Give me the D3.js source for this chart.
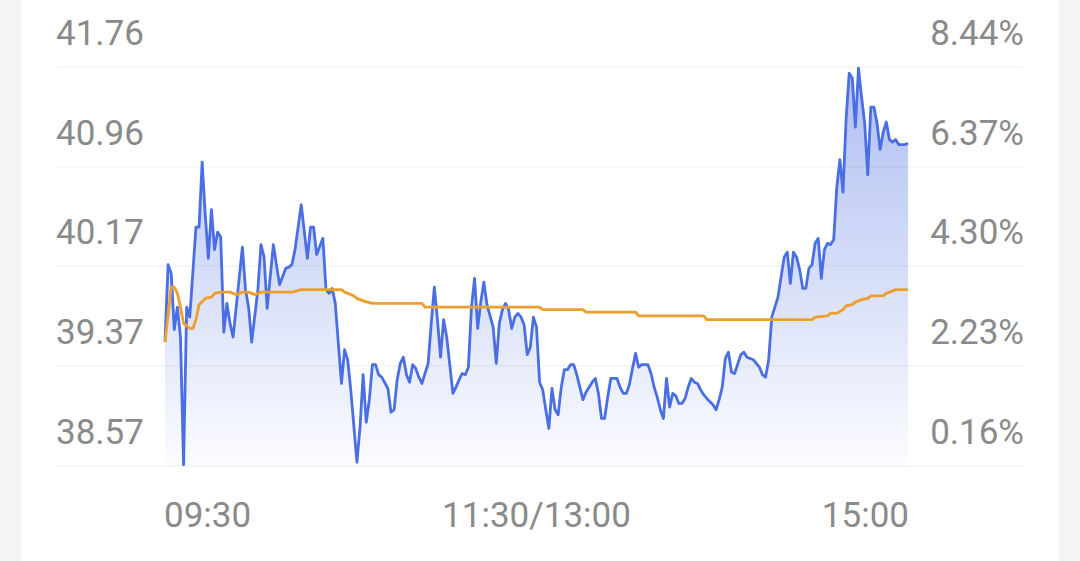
<!DOCTYPE html>
<html>
<head>
<meta charset="utf-8">
<script src="https://cdn.jsdelivr.net/npm/d3@7"></script>
<style>
  html, body { margin: 0; padding: 0; background: #f4f4f4; }
  #chart { width: 1080px; height: 561px; }
</style>
</head>
<body>
<div id="chart"></div>
<script>
// minute index from 09:30 (0..240, lunch break collapsed), last price
var priceMinutes = [0,1,2,3,4,5,6,7,8,10,11,12,13,14,15,16,17,18,19,20,21,22,23,25,26,27,28,30,31,32,33,35,36,37,39,40,41,42,44,46,47,48,49,51,52,53,54,55,57,58,59,60,62,63,64,65,66,67,68,69,70,72,73,74,75,76,77,78,79,80,81,82,83,84,85,86,87,88,89,90,91,93,94,95,96,97,98,99,100,101,102,103,104,106,107,108,109,110,111,112,113,114,115,116,117,118,119,120,121,122,123,124,125,126,127,128,129,130,131,132,133,134,135,136,138,139,140,141,142,143,144,146,147,148,149,150,151,152,153,154,156,157,158,159,160,161,162,163,164,165,166,167,168,169,170,171,172,173,174,175,177,178,179,180,181,182,183,184,186,187,188,190,192,193,194,195,196,198,199,200,201,202,203,204,205,206,207,208,209,210,211,212,213,214,215,216,217,218,219,220,221,222,223,224,225,226,227,228,229,230,231,232,233,234,235,236,237,239,240];
var prices = [39.57,40.18,40.11,39.66,39.84,39.60,38.58,39.84,39.76,40.48,40.48,41.00,40.58,40.23,40.62,40.30,40.44,40.40,39.64,39.87,39.71,39.60,39.84,40.32,39.98,39.84,39.56,39.98,40.34,40.24,39.83,40.34,40.18,40.02,40.15,40.16,40.18,40.30,40.66,40.23,40.48,40.48,40.26,40.39,39.98,39.95,39.99,39.87,39.23,39.50,39.42,39.18,38.60,38.88,39.30,38.92,39.10,39.38,39.38,39.30,39.28,39.19,39.00,39.02,39.26,39.39,39.44,39.30,39.24,39.38,39.35,39.28,39.23,39.31,39.39,39.71,40.00,39.74,39.44,39.74,39.60,39.15,39.20,39.26,39.31,39.30,39.36,39.84,40.07,39.67,39.88,40.04,39.86,39.68,39.39,39.71,39.82,39.87,39.82,39.67,39.76,39.79,39.76,39.70,39.46,39.52,39.76,39.68,39.24,39.18,39.02,38.87,39.19,39.02,38.98,39.20,39.34,39.34,39.38,39.38,39.30,39.20,39.10,39.16,39.24,39.27,39.15,38.95,38.95,39.12,39.27,39.27,39.20,39.15,39.15,39.22,39.35,39.47,39.36,39.38,39.38,39.31,39.20,39.12,39.02,38.95,39.27,39.04,39.15,39.13,39.07,39.07,39.11,39.20,39.27,39.24,39.23,39.18,39.14,39.11,39.06,39.02,39.10,39.20,39.43,39.48,39.32,39.31,39.46,39.48,39.44,39.42,39.36,39.30,39.28,39.42,39.76,39.92,40.08,40.24,40.28,40.03,40.28,40.24,40.14,39.99,39.99,40.15,40.18,40.35,40.39,40.07,40.30,40.35,40.34,40.38,40.80,41.02,40.76,41.34,41.71,41.67,41.28,41.75,41.52,41.31,40.90,41.44,41.44,41.31,41.10,41.24,41.32,41.18,41.16,41.18,41.14,41.14,41.15];

// average price line
var avgMinutes = [0,2,3,4,5,6,8,9,10,11,13,15,16,18,21,23,25,27,29,31,41,44,57,58,59,61,62,64,67,83,84,121,122,135,136,152,153,174,175,209,210,214,215,217,219,220,222,223,225,227,228,232,233,235,236,240];
var avgPrices = [39.56,40.00,40.00,39.95,39.84,39.71,39.67,39.67,39.74,39.86,39.91,39.92,39.95,39.96,39.96,39.94,39.96,39.96,39.94,39.96,39.96,39.98,39.98,39.96,39.95,39.93,39.91,39.89,39.87,39.87,39.84,39.84,39.82,39.82,39.80,39.80,39.77,39.77,39.74,39.74,39.76,39.77,39.79,39.79,39.82,39.85,39.86,39.88,39.90,39.91,39.93,39.93,39.95,39.97,39.98,39.98];

var priceTicks = [41.76, 40.96, 40.17, 39.37, 38.57];
var pctTicks = ["8.44%", "6.37%", "4.30%", "2.23%", "0.16%"];
var timeTicks = [0, 120, 240];
var timeLabels = ["09:30", "11:30/13:00", "15:00"];

var w = 1080,
    h = 561,
    plotLeft = 165,
    plotRight = 908,
    plotTop = 67,
    plotBottom = 466;

var svg = d3.select("#chart").append("svg")
  .attr("width", w)
  .attr("height", h)
  .style("font-family", "Roboto, 'Noto Sans', sans-serif");

svg.append("rect")
  .attr("x", 21)
  .attr("width", 1038)
  .attr("height", h)
  .attr("fill", "#ffffff");

var x = d3.scaleLinear().domain([0, 240]).range([plotLeft, plotRight]);
var y = d3.scaleLinear().domain([38.57, 41.76]).range([plotBottom, plotTop]);

var grad = svg.append("defs").append("linearGradient")
  .attr("id", "fillGrad")
  .attr("gradientUnits", "userSpaceOnUse")
  .attr("x1", 0).attr("x2", 0)
  .attr("y1", plotTop).attr("y2", plotBottom);
grad.append("stop").attr("offset", "0%").attr("stop-color", "#4a6ee0").attr("stop-opacity", 0.45);
grad.append("stop").attr("offset", "100%").attr("stop-color", "#4a6ee0").attr("stop-opacity", 0.02);

// grid
svg.append("g").selectAll("line")
  .data(priceTicks)
  .enter().append("line")
  .attr("x1", 57)
  .attr("x2", 1023)
  .attr("y1", d => y(d))
  .attr("y2", d => y(d))
  .attr("stroke", "#f4f4f4")
  .attr("stroke-width", 1.5);

var pts = priceMinutes.map((m, i) => [m, prices[i]]);
var avgPts = avgMinutes.map((m, i) => [m, avgPrices[i]]);

var area = d3.area()
  .x(d => x(d[0]))
  .y0(plotBottom)
  .y1(d => y(d[1]));

var line = d3.line()
  .x(d => x(d[0]))
  .y(d => y(d[1]));

svg.append("path")
  .datum(pts)
  .attr("d", area)
  .attr("fill", "url(#fillGrad)");

svg.append("path")
  .datum(pts)
  .attr("d", line)
  .attr("fill", "none")
  .attr("stroke", "#4a6ee3")
  .attr("stroke-width", 2.8)
  .attr("stroke-linejoin", "round");

svg.append("path")
  .datum(avgPts)
  .attr("d", line)
  .attr("fill", "none")
  .attr("stroke", "#ee9e2c")
  .attr("stroke-width", 2.8)
  .attr("stroke-linejoin", "round");

// left price labels
svg.append("g").selectAll("text")
  .data(priceTicks)
  .enter().append("text")
  .attr("x", 56)
  .attr("y", d => y(d) - 22)
  .attr("fill", "#8a8a8a")
  .style("font-size", "35px")
  .text(d => d.toFixed(2));

// right percent labels
svg.append("g").selectAll("text")
  .data(priceTicks)
  .enter().append("text")
  .attr("x", 1024)
  .attr("y", d => y(d) - 22)
  .attr("text-anchor", "end")
  .attr("fill", "#8a8a8a")
  .style("font-size", "35px")
  .text((_, i) => pctTicks[i]);

// time labels
svg.append("g").selectAll("text")
  .data(timeTicks)
  .enter().append("text")
  .attr("x", (d, i) => i == 0 ? x(d) - 1 : i == 2 ? x(d) + 1 : x(d))
  .attr("y", 527)
  .attr("text-anchor", (d, i) => i == 0 ? "start" : i == 2 ? "end" : "middle")
  .attr("fill", "#8a8a8a")
  .style("font-size", "35px")
  .text((_, i) => timeLabels[i]);
</script>
</body>
</html>
